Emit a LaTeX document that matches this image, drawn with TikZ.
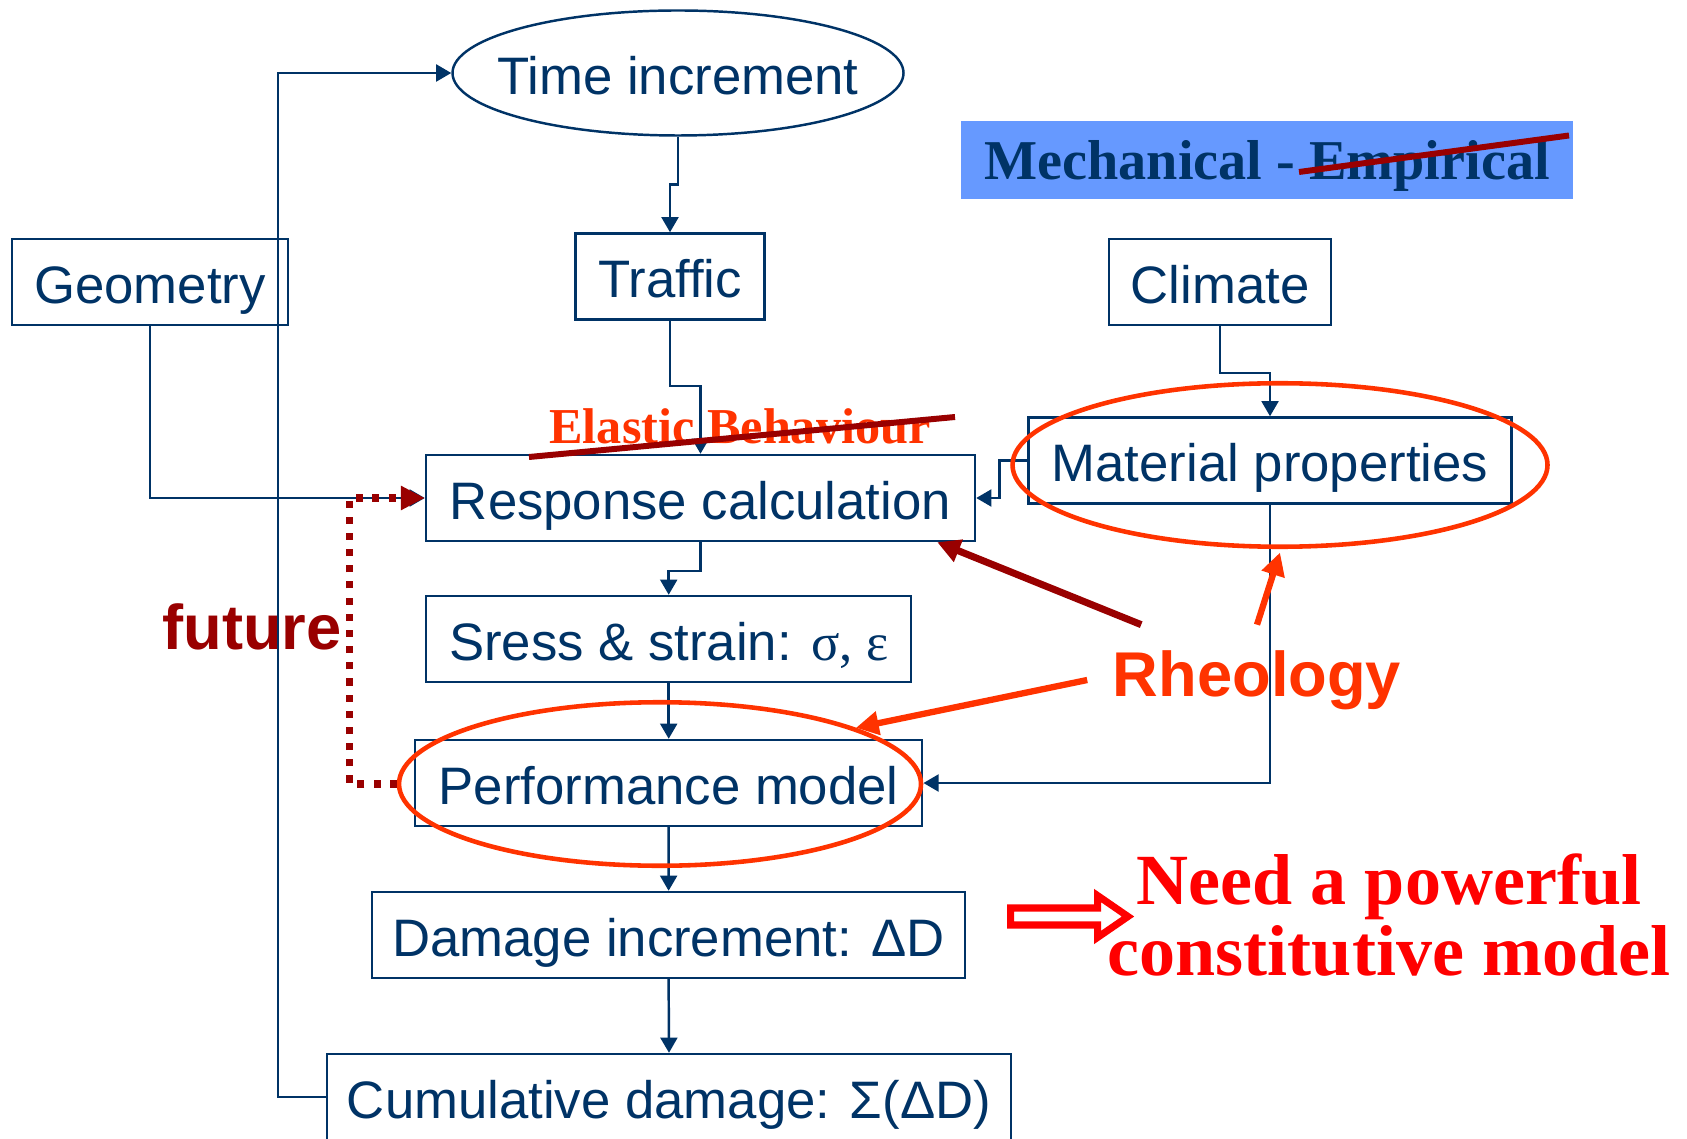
\documentclass[tikz,border=0pt]{standalone}
\usepackage{fontspec}
\setmainfont{Liberation Sans}
\newfontfamily\timesfont{Liberation Serif}
\usetikzlibrary{shapes, arrows.meta, positioning, calc}
\definecolor{navyline}{RGB}{0, 51, 102}
\definecolor{rheored}{RGB}{255, 51, 0}
\definecolor{darkred}{RGB}{153, 0, 0}
\definecolor{mechblue}{RGB}{102, 153, 255}
\definecolor{needred}{RGB}{255, 0, 0}

\begin{document}
\begin{tikzpicture}[
  fbox/.style={draw=navyline, line width=0.7pt, text=navyline, minimum height=0.86cm, inner sep=0pt, text height=14.25pt, text depth=2.25pt, font=\fontsize{15}{18}\selectfont},
  flow/.style={draw=navyline, line width=0.7pt, -{Triangle[length=4.3pt, width=4.8pt]}},
  ring/.style={draw=rheored, line width=1.3pt, ellipse, minimum height=1.635cm},
  pointer/.style={line width=1.8pt, -{Triangle[length=6.5pt, width=6.5pt]}},
  strike/.style={draw=darkred, line width=1.7pt}
]
  \useasboundingbox (0, 0) rectangle (16.87, -11.38);

  \node[ellipse, draw=navyline, line width=0.7pt, text=navyline, minimum width=4.51cm, minimum height=1.25cm, inner sep=0pt, text height=14.25pt, text depth=2.25pt, font=\fontsize{15}{18}\selectfont] (time) at (6.78, -0.73) {\makebox[0pt]{Time increment}};
  \node[fill=mechblue, minimum width=6.12cm, minimum height=0.775cm, inner sep=0pt, text height=14.4pt, text depth=3.2pt, text=navyline, font=\timesfont\bfseries\fontsize{16}{18}\selectfont] (mech) at (12.67, -1.60) {Mechanical - Empirical};

  \node[fbox, minimum width=2.765cm] (geometry) at (1.50, -2.82) {Geometry};
  \node[fbox, minimum width=1.89cm] (traffic) at (6.70, -2.765) {Traffic};
  \node[fbox, minimum width=2.22cm] (climate) at (12.20, -2.82) {Climate};
  \node[fbox, minimum width=5.49cm] (response) at (7.005, -4.98) {Response calculation};
  \node[fbox, minimum width=4.83cm] (material) at (12.70, -4.605) {Material properties};
  \node[fbox, minimum width=4.85cm] (stress) at (6.687, -6.39) {Sress \& strain: {\timesfont σ, ε}};
  \node[fbox, minimum width=5.07cm] (perf) at (6.687, -7.83) {Performance model};
  \node[fbox, minimum width=5.93cm] (damage) at (6.686, -9.35) {Damage increment: ΔD};
  \node[fbox, minimum width=6.84cm] (cumul) at (6.69, -10.97) {Cumulative damage: Σ(ΔD)};

  \node[text=rheored, inner sep=0pt, font=\timesfont\bfseries\fontsize{14.3}{16}\selectfont] (elastic) at (7.40, -4.26) {Elastic Behaviour};
  \node[text=rheored, inner sep=0.25cm, font=\bfseries\fontsize{18}{20}\selectfont] (rheo) at (12.57, -6.80) {Rheology};
  \node[text=darkred, inner sep=0pt, font=\bfseries\fontsize{18}{20}\selectfont] (future) at (2.52, -6.27) {future};
  \node[text=needred, align=center, inner sep=0pt, font=\timesfont\bfseries\fontsize{20.5}{20}\selectfont] (need) at (13.89, -9.15) {Need a powerful\\constitutive model};

  % flow of the design method
  \draw[flow] (time.south) -- ++(0, -0.48) -| (traffic.north);
  \draw[flow] (traffic.south) -- ++(0, -0.655) -| (response.north);
  \draw[flow] (geometry.south) |- (response.west);
  \draw[flow] (climate.south) -- ++(0, -0.47) -| (material.north);
  \draw[flow] (material.west) -- ++(-0.28, 0) |- (response.east);
  \draw[flow] (material.south) |- (perf.east);
  \draw[flow] (response.south) -- ++(0, -0.29) -| (stress.north);
  \draw[flow] (stress.south) -- (perf.north);
  \draw[flow] (perf.south) -- (damage.north);
  \draw[flow] (damage.south) -- (cumul.north);
  \draw[flow] (cumul.west) -- ++(-0.48, 0) |- (time.west);

  \node[ring, minimum width=5.35cm] (matring) at (12.80, -4.65) {};
  \node[ring, minimum width=5.22cm] (perfring) at (6.60, -7.84) {};

  \draw[darkred, line width=2pt, dash pattern=on 2pt off 2.6pt, -{Triangle[length=6.8pt, width=6.5pt]}] (perfring.west) -- ++(-0.47, 0) |- (response.west);

  \draw[strike] (5.29, -4.57) -- (9.55, -4.17);
  \draw[strike] (12.99, -1.72) -- (15.69, -1.355);

  \draw[pointer, darkred, line width=2pt] ([xshift=0.54cm]rheo.north west) -- ([xshift=-0.39cm]response.south east);
  \draw[pointer, rheored] (rheo.north) -- ([yshift=-0.035cm]matring.south);
  \draw[pointer, rheored] (rheo.west) -- (perfring.16);

  % hollow arrow
  \draw[needred, line width=2pt] (10.105, -9.08) -- (10.975, -9.08) -- (10.975, -8.955) -- (11.28, -9.165) -- (10.975, -9.375) -- (10.975, -9.25) -- (10.105, -9.25) -- cycle;
\end{tikzpicture}
\end{document}
